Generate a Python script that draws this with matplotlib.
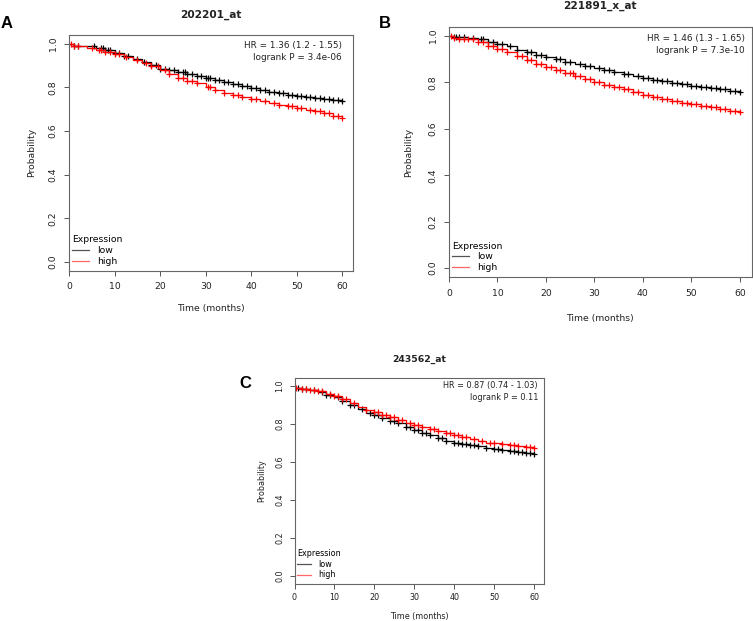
import numpy as np
import matplotlib
matplotlib.use("Agg")
import matplotlib.pyplot as plt

# Reading times (months) shared by all curves
t_read = [0, 1, 2, 4, 6, 8, 10, 12, 14, 16, 18, 20, 22, 24, 26, 28, 30,
          32, 34, 36, 38, 40, 42, 44, 46, 48, 50, 52, 54, 56, 58, 60]

# Panel A: 202201_at
a_low_s = [1.0, 0.99, 0.989, 0.987, 0.98, 0.97, 0.955, 0.945, 0.93, 0.915, 0.90, 0.885, 0.877, 0.87, 0.86, 0.85, 0.84,
           0.833, 0.825, 0.815, 0.805, 0.797, 0.787, 0.78, 0.772, 0.765, 0.76, 0.755, 0.75, 0.745, 0.741, 0.737]
a_high_s = [1.0, 0.99, 0.988, 0.98, 0.97, 0.96, 0.95, 0.94, 0.925, 0.91, 0.895, 0.88, 0.862, 0.843, 0.83, 0.82, 0.80,
            0.785, 0.775, 0.763, 0.753, 0.745, 0.737, 0.73, 0.72, 0.713, 0.705, 0.698, 0.69, 0.68, 0.667, 0.658]
a_low_cens = [1, 2, 5.5, 7, 7.5, 8, 8.5, 9, 10, 11, 12, 13, 15, 16.5, 18, 19, 20, 21, 22, 23, 24, 25, 25.5, 26, 27, 28, 29, 30, 30.5, 31, 32, 33, 34, 35, 36, 37, 38, 39, 40, 41, 42, 43, 44, 45, 46, 47, 48, 49, 50, 51, 52, 53, 54, 55, 56, 57, 58, 59, 60]
a_high_cens = [0.5, 1, 2, 5, 6.5, 7, 8, 9, 10, 11, 12.5, 15, 17, 18, 19.5, 21, 22, 24, 25, 26, 27, 28, 30.5, 31, 32, 34, 36, 37, 38, 40, 41, 43, 45, 46, 48, 49, 50, 51, 53, 54, 55, 56, 57, 58, 59, 60]

# Panel B: 221891_x_at
b_low_s = [1.0, 0.997, 0.996, 0.993, 0.985, 0.975, 0.965, 0.955, 0.94, 0.93, 0.92, 0.91, 0.90, 0.89, 0.88, 0.87, 0.862,
           0.855, 0.845, 0.836, 0.827, 0.82, 0.812, 0.805, 0.798, 0.792, 0.786, 0.78, 0.775, 0.77, 0.765, 0.76]
b_high_s = [1.0, 0.99, 0.988, 0.985, 0.972, 0.958, 0.945, 0.932, 0.915, 0.895, 0.878, 0.865, 0.855, 0.842, 0.828, 0.815, 0.80,
            0.79, 0.78, 0.77, 0.758, 0.745, 0.737, 0.73, 0.72, 0.712, 0.705, 0.698, 0.692, 0.685, 0.678, 0.672]
b_low_cens = [1, 1.5, 2, 3, 5, 6.5, 7, 8, 9, 10, 11, 12.5, 14, 16, 17, 18, 19, 20, 22, 23, 24, 25, 27, 28, 29, 31, 32, 33, 34, 36, 37, 39, 40, 41, 42, 43, 44, 45, 46, 47, 48, 49, 50, 51, 52, 53, 54, 55, 56, 57, 58, 59, 60]
b_high_cens = [0.5, 1, 2, 3, 4, 5, 6, 7, 8, 9, 10, 11, 12, 14, 15, 16, 17, 18, 19, 20, 21, 22, 23, 24, 25, 25.5, 26, 27, 28, 29, 30, 31, 32, 33, 34, 35, 36, 37, 38, 39, 40, 41, 42, 43, 44, 45, 46, 47, 48, 49, 50, 51, 52, 53, 54, 55, 56, 57, 58, 59, 60]

# Panel C: 243562_at
c_low_s = [0.99, 0.987, 0.985, 0.98, 0.968, 0.955, 0.94, 0.92, 0.90, 0.88, 0.86, 0.845, 0.83, 0.818, 0.805, 0.785, 0.768,
           0.755, 0.74, 0.727, 0.713, 0.70, 0.695, 0.69, 0.682, 0.675, 0.67, 0.665, 0.66, 0.655, 0.648, 0.64]
c_high_s = [0.99, 0.987, 0.985, 0.98, 0.972, 0.96, 0.945, 0.93, 0.91, 0.89, 0.873, 0.862, 0.85, 0.837, 0.82, 0.805, 0.795,
            0.785, 0.775, 0.765, 0.752, 0.74, 0.73, 0.72, 0.71, 0.70, 0.698, 0.695, 0.688, 0.682, 0.678, 0.675]
c_low_cens = [1, 2, 3, 5, 7, 8, 9, 11, 12, 14, 15, 17, 19, 20, 21, 22, 24, 25, 26, 28, 29, 30, 31, 32, 33, 34, 36, 37, 38, 40, 41, 42, 43, 44, 45, 46, 48, 50, 51, 52, 54, 55, 56, 57, 58, 59, 60]
c_high_cens = [0.5, 2, 3, 4, 5, 6, 7, 9, 10, 11, 12, 13, 15, 18, 20, 21, 22, 23, 24, 25, 26, 27, 29, 30, 31, 32, 34, 35, 36, 38, 39, 40, 41, 42, 43, 45, 47, 49, 50, 52, 54, 55, 56, 58, 59, 60]

W, H = 753, 621


def px_box(left, top, right, bottom):
    '''Axes rectangle from pixel edges'''
    return [left / W, 1 - bottom / H, (right - left) / W, (bottom - top) / H]


def step_value(t, s, c):
    '''Survival value of the step curve at time c'''
    idx = np.searchsorted(t, c, side="right") - 1
    return np.asarray(s)[idx]


def km_panel(ax, title, curves, hr_text, cfg):
    '''Draws one Kaplan-Meier style panel'''
    fs = cfg["fs"]
    handles = []
    for s, cens, col, lab in curves:
        line, = ax.step(t_read, s, where="post", color=col, lw=0.9, label=lab)
        ax.plot(cens, step_value(t_read, s, cens), ls="none", marker="+",
                color=col, ms=cfg["ms"], mew=0.9)
        handles.append(line)

    ax.set_xlim(0, 62.4)
    ax.set_ylim(-0.04, 1.04)
    ax.set_xticks(np.arange(0, 61, 10))
    ax.set_yticks(np.arange(0, 1.01, 0.2))
    ax.set_yticklabels([f"{v:.1f}" for v in np.arange(0, 1.01, 0.2)],
                       rotation=90, va="center")
    ax.tick_params(labelsize=fs, length=3.6, width=0.7, color="#555555",
                   pad=cfg["pad"], labelcolor="#222222")
    for sp in ax.spines.values():
        sp.set_color("#666666")
        sp.set_linewidth(0.8)

    ax.set_title(title, fontsize=cfg["tfs"], fontweight="bold", pad=cfg["tpad"],
                 color="#222222")
    ax.set_xlabel("Time (months)", fontsize=fs, va="center", color="#222222")
    ax.set_ylabel("Probability", fontsize=fs, va="center", color="#222222")
    ax.xaxis.set_label_coords(0.5, cfg["xl"])
    ax.yaxis.set_label_coords(cfg["yl"], 0.5)

    ax.text(cfg["hrx"], cfg["hry"], hr_text, transform=ax.transAxes,
            ha="right", va="top", fontsize=cfg["hfs"], linespacing=1.4,
            color="#222222")

    leg = ax.legend(handles=handles, title="Expression", loc="lower left",
                    bbox_to_anchor=(0.01, 0.02), frameon=False, fontsize=fs,
                    title_fontsize=fs, handlelength=1.8, handletextpad=0.9,
                    labelspacing=0.2, borderpad=0, borderaxespad=0,
                    alignment="left")
    leg.get_lines()[0].set_color("#555555")
    leg.get_lines()[1].set_color("#ff6666")


fig = plt.figure(figsize=(W / 100, H / 100), dpi=100)
plt.rcParams["font.family"] = "DejaVu Sans"

ax_a = fig.add_axes(px_box(69, 34.8, 353.3, 270.7))
km_panel(ax_a, "202201_at",
         [(a_low_s, a_low_cens, "black", "low"),
          (a_high_s, a_high_cens, "red", "high")],
         "HR = 1.36 (1.2 - 1.55)\nlogrank P = 3.4e-06",
         dict(fs=6.7, tfs=7.6, tpad=12, hfs=6.4, ms=4.5, pad=4.5,
              xl=-0.162, yl=-0.133, hrx=0.96, hry=0.974))

ax_b = fig.add_axes(px_box(449, 26.7, 751.5, 277.3))
km_panel(ax_b, "221891_x_at",
         [(b_low_s, b_low_cens, "black", "low"),
          (b_high_s, b_high_cens, "red", "high")],
         "HR = 1.46 (1.3 - 1.65)\nlogrank P = 7.3e-10",
         dict(fs=6.7, tfs=7.6, tpad=12.7, hfs=6.4, ms=4.5, pad=4.5,
              xl=-0.164, yl=-0.133, hrx=0.978, hry=0.969))

ax_c = fig.add_axes(px_box(294.5, 378.4, 544, 583.6))
km_panel(ax_c, "243562_at",
         [(c_low_s, c_low_cens, "black", "low"),
          (c_high_s, c_high_cens, "red", "high")],
         "HR = 0.87 (0.74 - 1.03)\nlogrank P = 0.11",
         dict(fs=5.8, tfs=6.7, tpad=11.7, hfs=5.9, ms=4, pad=3.5,
              xl=-0.158, yl=-0.130, hrx=0.976, hry=0.987))

# Panel letters
for letter, x, y in [("A", 7, 23), ("B", 385, 23), ("C", 245, 383)]:
    fig.text(x / W, 1 - y / H, letter, fontsize=12, fontweight="bold",
             ha="center", va="center", family="Liberation Sans")

fig.savefig("out.png", dpi=100, facecolor="white")
